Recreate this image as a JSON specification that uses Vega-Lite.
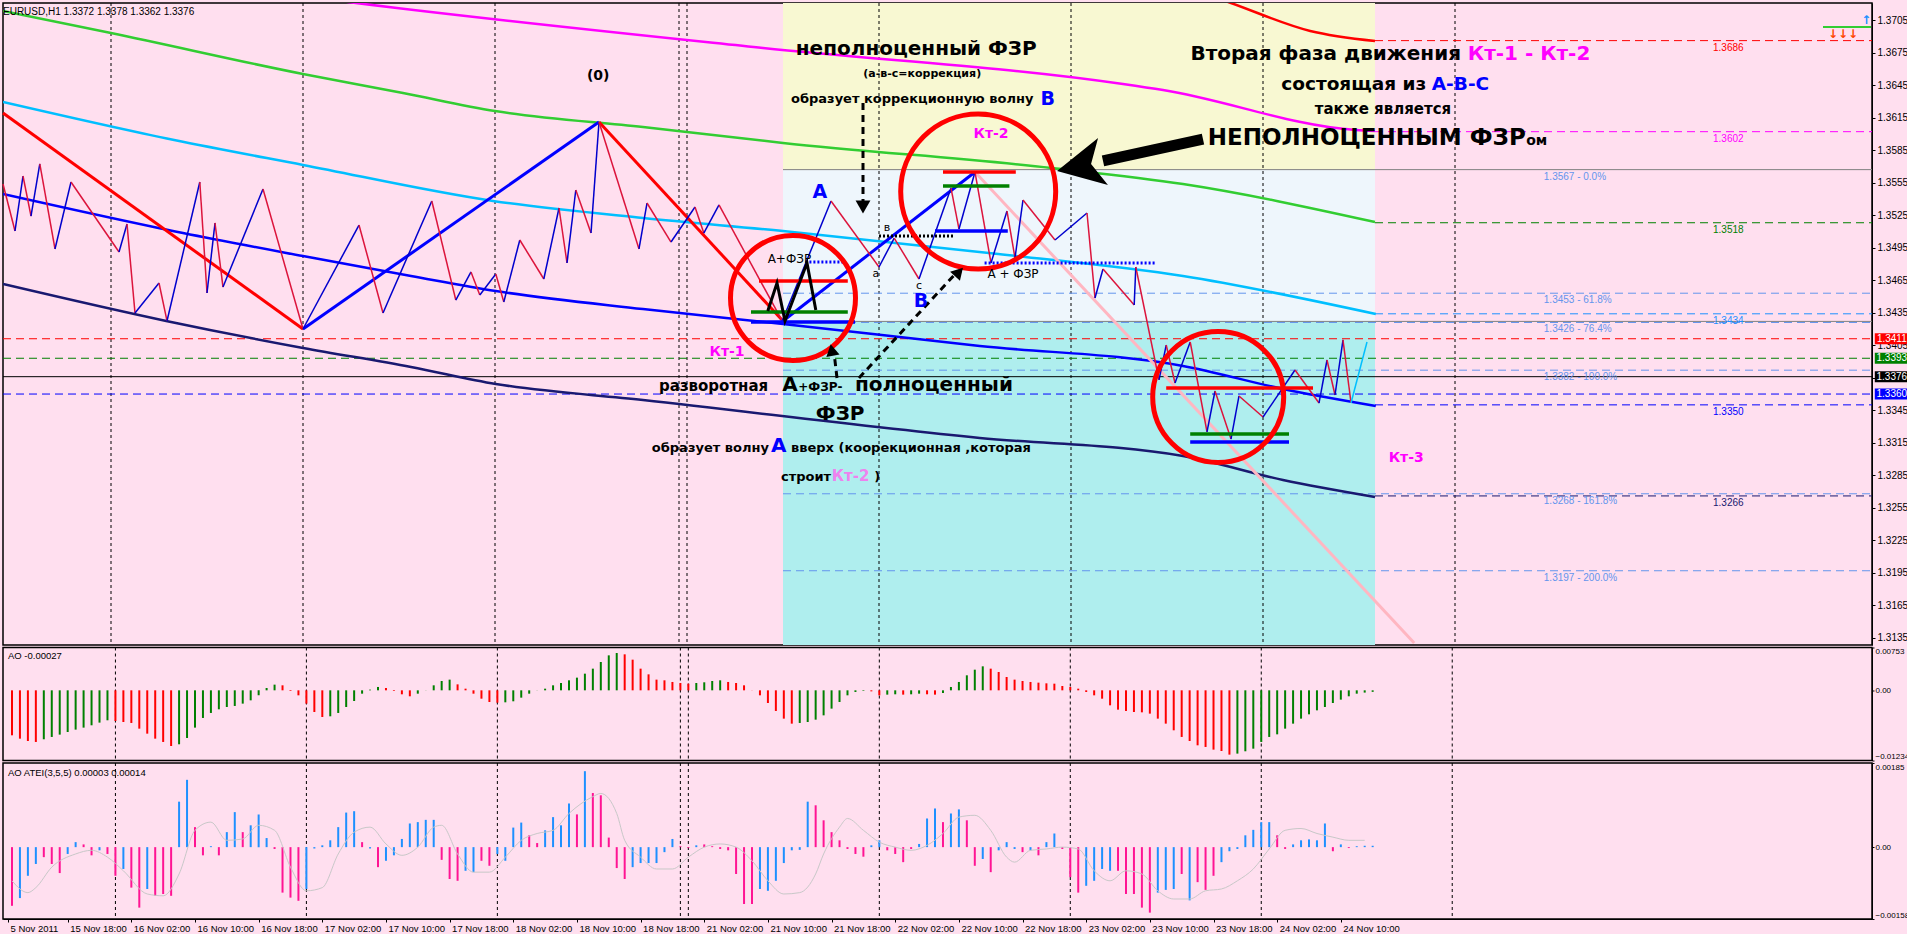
{
"$schema": "https://vega.github.io/schema/vega-lite/v6.json",
"background": "#FFDFEF",
"padding": {"left": 0, "top": 1, "right": 0, "bottom": 0},
"spacing": -1.5,
"config": {
  "view": {"stroke": "#000000", "strokeWidth": 1.5, "fill": "#FFDFEF"},
  "axis": {"labelFont": "Liberation Sans", "labelFontSize": 10, "labelColor": "#000000", "tickColor": "#000000", "domainColor": "#000000", "grid": false, "labelOverlap": false, "labelSeparation": 0}
},
"datasets": {
  "sep": [{"b":14},{"b":38},{"b":62},{"b":85},{"b":86},{"b":110},{"b":134},{"b":158},{"b":182}],
  "zz": [{"b":0.5,"p":1.35537},{"b":2,"p":1.35104},{"b":3,"p":1.35611},{"b":4,"p":1.35242},{"b":5.1,"p":1.35722},{"b":7,"p":1.34938},{"b":9,"p":1.35556},{"b":15,"p":1.3491},{"b":16,"p":1.35168},{"b":17,"p":1.34348},{"b":20,"p":1.34624},{"b":21,"p":1.34274},{"b":25.1,"p":1.35556},{"b":26,"p":1.34532},{"b":27,"p":1.35178},{"b":28,"p":1.34587},{"b":33,"p":1.35491},{"b":38,"p":1.342},{"b":45,"p":1.35159},{"b":48,"p":1.34348},{"b":54.1,"p":1.35381},{"b":57.1,"p":1.34467},{"b":59,"p":1.34726},{"b":60.1,"p":1.34514},{"b":62.1,"p":1.34707},{"b":63.1,"p":1.34449},{"b":65.1,"p":1.35021},{"b":68.1,"p":1.34661},{"b":70,"p":1.35316},{"b":71,"p":1.34809},{"b":72.1,"p":1.35482},{"b":74,"p":1.35085},{"b":75,"p":1.36109},{"b":80,"p":1.34938},{"b":81,"p":1.35362},{"b":84,"p":1.35002},{"b":87,"p":1.35325},{"b":88.1,"p":1.35085},{"b":90,"p":1.35344},{"b":97.9,"p":1.34274},{"b":104,"p":1.35381},{"b":110,"p":1.34772},{"b":111.9,"p":1.35039},{"b":115,"p":1.34661},{"b":119,"p":1.355},{"b":120,"p":1.35122},{"b":122,"p":1.35648},{"b":124,"p":1.34809},{"b":126,"p":1.35288},{"b":127,"p":1.34855},{"b":128,"p":1.3539},{"b":132,"p":1.35021},{"b":136,"p":1.3527},{"b":137,"p":1.34486},{"b":138,"p":1.34753},{"b":141.9,"p":1.34421},{"b":142.1,"p":1.34772},{"b":145,"p":1.3373},{"b":145.9,"p":1.34052},{"b":147,"p":1.33702},{"b":148.9,"p":1.3408},{"b":151,"p":1.3325},{"b":152,"p":1.33628},{"b":154,"p":1.33185},{"b":155,"p":1.33582},{"b":158,"p":1.33388},{"b":162,"p":1.33822},{"b":165,"p":1.33517},{"b":166,"p":1.33914},{"b":167,"p":1.33591},{"b":168,"p":1.34099},{"b":169,"p":1.33517}],
  "big": [{"b":0.5,"p":1.36192},{"b":38,"p":1.342},{"b":75,"p":1.36109},{"b":98,"p":1.34274},{"b":122,"p":1.35648}],
  "ma": [
    {"m":"MA1","b":148,"p":1.37363},{"m":"MA1","b":154,"p":1.37207},{"m":"MA1","b":163.9,"p":1.36949},{"m":"MA1","b":172,"p":1.36856},
    {"m":"MA2","b":30,"p":1.37346},{"m":"MA2","b":44.6,"p":1.37207},{"m":"MA2","b":95.5,"p":1.36792},{"m":"MA2","b":140.5,"p":1.3646},{"m":"MA2","b":145.5,"p":1.36404},{"m":"MA2","b":169.6,"p":1.36035},{"m":"MA2","b":172,"p":1.36026},
    {"m":"MA3","b":0.5,"p":1.37133},{"m":"MA3","b":14,"p":1.3693},{"m":"MA3","b":38,"p":1.36552},{"m":"MA3","b":50.5,"p":1.36377},{"m":"MA3","b":62,"p":1.36211},{"m":"MA3","b":80.5,"p":1.36063},{"m":"MA3","b":98,"p":1.35916},{"m":"MA3","b":131.6,"p":1.35685},{"m":"MA3","b":148,"p":1.35537},{"m":"MA3","b":172,"p":1.35187},
    {"m":"MA4","b":0.5,"p":1.36294},{"m":"MA4","b":21.9,"p":1.35943},{"m":"MA4","b":38,"p":1.35713},{"m":"MA4","b":61.75,"p":1.35381},{"m":"MA4","b":80.5,"p":1.35224},{"m":"MA4","b":98,"p":1.35104},{"m":"MA4","b":124.9,"p":1.34892},{"m":"MA4","b":148,"p":1.34689},{"m":"MA4","b":172.1,"p":1.34338},
    {"m":"MA5","b":0.5,"p":1.35445},{"m":"MA5","b":23,"p":1.35085},{"m":"MA5","b":38,"p":1.34873},{"m":"MA5","b":51.5,"p":1.34689},{"m":"MA5","b":62.1,"p":1.3455},{"m":"MA5","b":80.5,"p":1.34384},{"m":"MA5","b":98,"p":1.34246},{"m":"MA5","b":122.6,"p":1.34043},{"m":"MA5","b":148,"p":1.33859},{"m":"MA5","b":160.5,"p":1.33647},{"m":"MA5","b":172.1,"p":1.3349},
    {"m":"MA6","b":0.5,"p":1.34615},{"m":"MA6","b":20.9,"p":1.34274},{"m":"MA6","b":38,"p":1.34025},{"m":"MA6","b":51.5,"p":1.3385},{"m":"MA6","b":62.1,"p":1.33693},{"m":"MA6","b":80.5,"p":1.33545},{"m":"MA6","b":122.6,"p":1.33195},{"m":"MA6","b":148,"p":1.33029},{"m":"MA6","b":160.5,"p":1.32807},{"m":"MA6","b":172,"p":1.3265}
  ],
  "lv": [
    {"k":"D1","p":1.3686,"b1":172,"b2":234.125},{"k":"D2","p":1.3602,"b1":172,"b2":234.125},{"k":"D3","p":1.3518,"b1":172,"b2":234.125},{"k":"D4","p":1.3434,"b1":172,"b2":234.125},{"k":"D5","p":1.335,"b1":172,"b2":234.125},{"k":"D6","p":1.3266,"b1":172,"b2":234.125},
    {"k":"L1","p":1.3411,"b1":0.5,"b2":234.125},{"k":"L2","p":1.3393,"b1":0.5,"b2":234.125},{"k":"L3","p":1.3376,"b1":0.5,"b2":234.125},{"k":"L4","p":1.336,"b1":0.5,"b2":234.125},
    {"k":"F","p":1.3453,"b1":98,"b2":234.125},{"k":"F","p":1.3426,"b1":98,"b2":234.125},{"k":"F","p":1.3382,"b1":98,"b2":234.125},{"k":"F","p":1.3268,"b1":98,"b2":234.125},{"k":"F","p":1.3197,"b1":98,"b2":234.125},
    {"k":"G","p":1.3567,"b1":98,"b2":234.125},{"k":"G","p":1.3427,"b1":98,"b2":234.125}
  ],
  "ind": [
{"b":1,"ao":-0.00791,"at":-0.00129,"t":"d"},{"b":2,"ao":-0.0085,"at":-0.00112,"t":"u"},{"b":3,"ao":-0.00891,"at":-0.00063,"t":"u"},{"b":4,"ao":-0.00908,"at":-0.00037,"t":"u"},{"b":5,"ao":-0.00861,"at":-0.00022,"t":"d"},{"b":6,"ao":-0.0082,"at":-0.00037,"t":"d"},{"b":7,"ao":-0.00779,"at":-0.00057,"t":"d"},{"b":8,"ao":-0.00733,"at":-0.00015,"t":"u"},{"b":9,"ao":-0.00691,"at":0.00011,"t":"u"},{"b":10,"ao":-0.00656,"at":0.00006,"t":"d"},
{"b":11,"ao":-0.00615,"at":-0.00018,"t":"d"},{"b":12,"ao":-0.00568,"at":-0.00007,"t":"u"},{"b":13,"ao":-0.00527,"at":-0.00015,"t":"d"},{"b":14,"ao":-0.00539,"at":-0.00063,"t":"d"},{"b":15,"ao":-0.00557,"at":-0.00048,"t":"u"},{"b":16,"ao":-0.00574,"at":-0.00089,"t":"d"},{"b":17,"ao":-0.00674,"at":-0.00133,"t":"d"},{"b":18,"ao":-0.00762,"at":-0.00092,"t":"u"},{"b":19,"ao":-0.0085,"at":-0.00107,"t":"d"},{"b":20,"ao":-0.00908,"at":-0.00103,"t":"d"},
{"b":21,"ao":-0.00979,"at":-0.00107,"t":"d"},{"b":22,"ao":-0.00949,"at":0.001,"t":"u"},{"b":23,"ao":-0.00838,"at":0.00148,"t":"u"},{"b":24,"ao":-0.00656,"at":0.00044,"t":"d"},{"b":25,"ao":-0.00486,"at":-0.00018,"t":"d"},{"b":26,"ao":-0.00398,"at":0.00002,"t":"u"},{"b":27,"ao":-0.00334,"at":-0.00018,"t":"d"},{"b":28,"ao":-0.00293,"at":0.00033,"t":"u"},{"b":29,"ao":-0.00275,"at":0.00077,"t":"u"},{"b":30,"ao":-0.00234,"at":0.00033,"t":"d"},
{"b":31,"ao":-0.00176,"at":0.00048,"t":"u"},{"b":32,"ao":-0.00088,"at":0.00072,"t":"u"},{"b":33,"ao":0.00041,"at":0.0002,"t":"u"},{"b":34,"ao":0.001,"at":-0.00004,"t":"d"},{"b":35,"ao":0.00088,"at":-0.001,"t":"d"},{"b":36,"ao":-0.00012,"at":-0.00111,"t":"d"},{"b":37,"ao":-0.00088,"at":-0.00118,"t":"d"},{"b":38,"ao":-0.00234,"at":-0.00092,"t":"u"},{"b":39,"ao":-0.00381,"at":-0.00003,"t":"u"},{"b":40,"ao":-0.00469,"at":0.00004,"t":"u"},
{"b":41,"ao":-0.00457,"at":0.00015,"t":"u"},{"b":42,"ao":-0.00398,"at":0.00044,"t":"u"},{"b":43,"ao":-0.00293,"at":0.00076,"t":"u"},{"b":44,"ao":-0.00188,"at":0.00079,"t":"u"},{"b":45,"ao":-0.00059,"at":0.00011,"t":"d"},{"b":46,"ao":0.00012,"at":-0.00003,"t":"u"},{"b":47,"ao":0.00059,"at":-0.00044,"t":"d"},{"b":48,"ao":0.00041,"at":-0.0003,"t":"u"},{"b":49,"ao":-0.00012,"at":-0.00018,"t":"u"},{"b":50,"ao":-0.0007,"at":0.00018,"t":"u"},
{"b":51,"ao":-0.00105,"at":0.00052,"t":"u"},{"b":52,"ao":-0.00059,"at":0.00055,"t":"u"},{"b":53,"ao":0.00002,"at":0.0006,"t":"u"},{"b":54,"ao":0.00088,"at":0.0006,"t":"u"},{"b":55,"ao":0.00164,"at":-0.00028,"t":"d"},{"b":56,"ao":0.00188,"at":-0.0007,"t":"d"},{"b":57,"ao":0.00105,"at":-0.00074,"t":"d"},{"b":58,"ao":0.00029,"at":-0.00052,"t":"u"},{"b":59,"ao":-0.00059,"at":-0.00055,"t":"u"},{"b":60,"ao":-0.00147,"at":-0.0003,"t":"d"},
{"b":61,"ao":-0.00205,"at":-0.00041,"t":"d"},{"b":62,"ao":-0.00217,"at":-0.00015,"t":"u"},{"b":63,"ao":-0.00211,"at":-0.0003,"t":"u"},{"b":64,"ao":-0.00193,"at":0.00043,"t":"u"},{"b":65,"ao":-0.00129,"at":0.00054,"t":"u"},{"b":66,"ao":-0.00059,"at":0.00026,"t":"d"},{"b":67,"ao":0.00002,"at":0.00009,"t":"d"},{"b":68,"ao":0.00029,"at":0.00037,"t":"u"},{"b":69,"ao":0.00088,"at":0.00066,"t":"u"},{"b":70,"ao":0.00129,"at":0.00048,"t":"u"},
{"b":71,"ao":0.00176,"at":0.00096,"t":"u"},{"b":72,"ao":0.00223,"at":0.00072,"t":"d"},{"b":73,"ao":0.00293,"at":0.00167,"t":"u"},{"b":74,"ao":0.00381,"at":0.00119,"t":"d"},{"b":75,"ao":0.00498,"at":0.00114,"t":"d"},{"b":76,"ao":0.00615,"at":0.00021,"t":"d"},{"b":77,"ao":0.00656,"at":-0.00046,"t":"d"},{"b":78,"ao":0.00633,"at":-0.0007,"t":"d"},{"b":79,"ao":0.00539,"at":-0.00044,"t":"u"},{"b":80,"ao":0.00381,"at":-0.00035,"t":"u"},
{"b":81,"ao":0.00281,"at":-0.00035,"t":"u"},{"b":82,"ao":0.00188,"at":-0.00035,"t":"u"},{"b":83,"ao":0.00176,"at":-0.00011,"t":"u"},{"b":84,"ao":0.00147,"at":0.00018,"t":"u"},{"b":85,"ao":0.00129,"at":0.00002,"t":"d"},{"b":86,"ao":0.00117,"at":-0.00002,"t":"d"},{"b":87,"ao":0.00129,"at":0.00004,"t":"u"},{"b":88,"ao":0.00141,"at":0.00006,"t":"d"},{"b":89,"ao":0.00164,"at":0.00002,"t":"d"},{"b":90,"ao":0.00176,"at":-0.00004,"t":"d"},
{"b":91,"ao":0.00147,"at":-0.00007,"t":"d"},{"b":92,"ao":0.00129,"at":-0.00059,"t":"d"},{"b":93,"ao":0.00088,"at":-0.00125,"t":"d"},{"b":94,"ao":-0.00002,"at":-0.00125,"t":"d"},{"b":95,"ao":-0.00088,"at":-0.00092,"t":"u"},{"b":96,"ao":-0.00223,"at":-0.00096,"t":"u"},{"b":97,"ao":-0.00363,"at":-0.00074,"t":"u"},{"b":98,"ao":-0.00498,"at":-0.00035,"t":"u"},{"b":99,"ao":-0.00586,"at":-0.00007,"t":"u"},{"b":100,"ao":-0.00574,"at":-0.00006,"t":"u"},
{"b":101,"ao":-0.00557,"at":0.001,"t":"u"},{"b":102,"ao":-0.00516,"at":0.00092,"t":"d"},{"b":103,"ao":-0.0044,"at":0.00059,"t":"d"},{"b":104,"ao":-0.00322,"at":0.00033,"t":"d"},{"b":105,"ao":-0.00205,"at":0.00015,"t":"d"},{"b":106,"ao":-0.00088,"at":-0.00004,"t":"d"},{"b":107,"ao":-0.00029,"at":-0.00015,"t":"d"},{"b":108,"ao":-0.0001,"at":-0.00021,"t":"d"},{"b":109,"ao":-0.00018,"at":0.00004,"t":"u"},{"b":110,"ao":-0.00088,"at":0.00015,"t":"u"},
{"b":111,"ao":-0.00076,"at":-0.00007,"t":"d"},{"b":112,"ao":-0.0007,"at":-0.00015,"t":"d"},{"b":113,"ao":-0.00076,"at":-0.00033,"t":"d"},{"b":114,"ao":-0.0007,"at":-0.00004,"t":"d"},{"b":115,"ao":-0.00059,"at":0.00007,"t":"u"},{"b":116,"ao":-0.0007,"at":0.00063,"t":"u"},{"b":117,"ao":-0.00076,"at":0.00085,"t":"u"},{"b":118,"ao":-0.00047,"at":0.00055,"t":"d"},{"b":119,"ao":0.00059,"at":0.00074,"t":"u"},{"b":120,"ao":0.00147,"at":0.00083,"t":"u"},
{"b":121,"ao":0.00264,"at":0.00059,"t":"d"},{"b":122,"ao":0.00363,"at":-0.00041,"t":"d"},{"b":123,"ao":0.00422,"at":-0.00026,"t":"u"},{"b":124,"ao":0.00381,"at":-0.00055,"t":"d"},{"b":125,"ao":0.00322,"at":-0.00007,"t":"u"},{"b":126,"ao":0.00234,"at":0.00011,"t":"u"},{"b":127,"ao":0.00188,"at":-0.00004,"t":"u"},{"b":128,"ao":0.00164,"at":-0.00011,"t":"d"},{"b":129,"ao":0.00147,"at":-0.00007,"t":"u"},{"b":130,"ao":0.00135,"at":-0.00018,"t":"d"},
{"b":131,"ao":0.00123,"at":0.00011,"t":"u"},{"b":132,"ao":0.00117,"at":0.0003,"t":"u"},{"b":133,"ao":0.00076,"at":-0.00004,"t":"d"},{"b":134,"ao":0.00059,"at":-0.00066,"t":"d"},{"b":135,"ao":0.00029,"at":-0.001,"t":"d"},{"b":136,"ao":-0.00029,"at":-0.00085,"t":"u"},{"b":137,"ao":-0.00088,"at":-0.00074,"t":"u"},{"b":138,"ao":-0.00147,"at":-0.00048,"t":"u"},{"b":139,"ao":-0.00264,"at":-0.00052,"t":"u"},{"b":140,"ao":-0.0034,"at":-0.00052,"t":"d"},
{"b":141,"ao":-0.00363,"at":-0.00103,"t":"d"},{"b":142,"ao":-0.00381,"at":-0.00103,"t":"d"},{"b":143,"ao":-0.00387,"at":-0.00133,"t":"d"},{"b":144,"ao":-0.0041,"at":-0.00144,"t":"d"},{"b":145,"ao":-0.00498,"at":-0.001,"t":"u"},{"b":146,"ao":-0.00586,"at":-0.00094,"t":"u"},{"b":147,"ao":-0.00703,"at":-0.00092,"t":"u"},{"b":148,"ao":-0.0082,"at":-0.00059,"t":"d"},{"b":149,"ao":-0.00891,"at":-0.00117,"t":"u"},{"b":150,"ao":-0.00967,"at":-0.00077,"t":"d"},
{"b":151,"ao":-0.00996,"at":-0.00094,"t":"d"},{"b":152,"ao":-0.01043,"at":-0.00063,"t":"d"},{"b":153,"ao":-0.01067,"at":-0.00033,"t":"u"},{"b":154,"ao":-0.01131,"at":-0.00009,"t":"u"},{"b":155,"ao":-0.01113,"at":-0.00004,"t":"u"},{"b":156,"ao":-0.01072,"at":0.00026,"t":"u"},{"b":157,"ao":-0.01026,"at":0.00038,"t":"u"},{"b":158,"ao":-0.00908,"at":0.00055,"t":"u"},{"b":159,"ao":-0.0082,"at":0.00055,"t":"u"},{"b":160,"ao":-0.00774,"at":0.00026,"t":"d"},
{"b":161,"ao":-0.00674,"at":-0.00004,"t":"d"},{"b":162,"ao":-0.00586,"at":0.00006,"t":"u"},{"b":163,"ao":-0.00498,"at":0.00015,"t":"u"},{"b":164,"ao":-0.00422,"at":0.00017,"t":"u"},{"b":165,"ao":-0.00352,"at":0.00015,"t":"u"},{"b":166,"ao":-0.00293,"at":0.00052,"t":"u"},{"b":167,"ao":-0.00223,"at":-0.00009,"t":"d"},{"b":168,"ao":-0.00164,"at":0.00006,"t":"u"},{"b":169,"ao":-0.00105,"at":-0.00002,"t":"d"},{"b":170,"ao":-0.00059,"at":0.00002,"t":"u"},
{"b":171,"ao":-0.0004,"at":0.00003,"t":"u"},{"b":172,"ao":-0.00027,"at":0.00003,"t":"u"}
  ],
  "sig": [{"b":1,"s":-0.00074},{"b":3,"s":-0.001},{"b":4,"s":-0.00089},{"b":6,"s":-0.00044},{"b":9,"s":-0.00015},{"b":11,"s":-0.00007},{"b":13,"s":-0.00022},{"b":15,"s":-0.00052},{"b":18,"s":-0.00103},{"b":20,"s":-0.00107},{"b":22,"s":-0.00059},{"b":24,"s":0.00037},{"b":26,"s":0.00055},{"b":28,"s":0.00015},{"b":30,"s":0.00018},{"b":32,"s":0.00048},{"b":34,"s":0.00037},{"b":36,"s":-0.00044},{"b":38,"s":-0.00096},{"b":40,"s":-0.00089},{"b":42,"s":-0.00015},{"b":44,"s":0.00033},{"b":46,"s":0.00044},{"b":48,"s":0.00007},{"b":50,"s":-0.00018},{"b":52,"s":0.0},{"b":54,"s":0.00044},{"b":55,"s":0.00048},{"b":57,"s":-0.00015},{"b":59,"s":-0.00055},{"b":61,"s":-0.00055},{"b":63,"s":-0.00022},{"b":65,"s":0.00015},{"b":67,"s":0.0003},{"b":69,"s":0.00037},{"b":71,"s":0.00074},{"b":74,"s":0.00111},{"b":75,"s":0.00118},{"b":77,"s":0.00074},{"b":78,"s":0.00015},{"b":80,"s":-0.00022},{"b":82,"s":-0.00048},{"b":84,"s":-0.00048},{"b":86,"s":-0.00022},{"b":88,"s":0.0},{"b":90,"s":0.00007},{"b":92,"s":0.0},{"b":94,"s":-0.0003},{"b":96,"s":-0.00074},{"b":98,"s":-0.00103},{"b":100,"s":-0.001},{"b":102,"s":-0.00059},{"b":103,"s":-0.00015},{"b":105,"s":0.00044},{"b":106,"s":0.00063},{"b":108,"s":0.00037},{"b":110,"s":0.00011},{"b":112,"s":0.0},{"b":114,"s":-0.00007},{"b":116,"s":0.00004},{"b":118,"s":0.0003},{"b":120,"s":0.00066},{"b":122,"s":0.0007},{"b":124,"s":0.00037},{"b":126,"s":-0.00022},{"b":127,"s":-0.00033},{"b":129,"s":-0.00007},{"b":131,"s":-0.00004},{"b":133,"s":0.0},{"b":135,"s":-0.00004},{"b":137,"s":-0.00052},{"b":139,"s":-0.00074},{"b":141,"s":-0.00052},{"b":143,"s":-0.00059},{"b":145,"s":-0.00096},{"b":147,"s":-0.00114},{"b":149,"s":-0.00114},{"b":151,"s":-0.00096},{"b":153,"s":-0.00092},{"b":155,"s":-0.00074},{"b":157,"s":-0.00048},{"b":159,"s":-0.00004},{"b":161,"s":0.00037},{"b":163,"s":0.00041},{"b":165,"s":0.0003},{"b":167,"s":0.00022},{"b":169,"s":0.00015},{"b":171,"s":0.00015}]
},
"vconcat": [
{
  "width": 1869, "height": 642,
  "resolve": {"scale": {"color": "independent"}},
  "layer": [
    {"data": {"values": [{"z":"Z1","b1":98,"b2":172,"p1":1.37207,"p2":1.3567},{"z":"Z2","b1":98,"b2":172,"p1":1.3567,"p2":1.3427},{"z":"Z3","b1":98,"b2":172,"p1":1.3427,"p2":1.31285}]},
     "mark": {"type": "rect"},
     "encoding": {
       "x": {"field": "b1", "type": "quantitative", "scale": {"domain": [0.5, 234.125], "nice": false, "zero": false}, "axis": null},
       "x2": {"field": "b2"},
       "y": {"field": "p1", "type": "quantitative", "scale": {"domain": [1.31285, 1.37207], "nice": false, "zero": false},
             "axis": {"orient": "right", "title": null, "values": [1.3705,1.3675,1.3645,1.3615,1.3585,1.3555,1.3525,1.3495,1.3465,1.3435,1.3405,1.3375,1.3345,1.3315,1.3285,1.3255,1.3225,1.3195,1.3165,1.3135], "tickCount": 40, "format": ".4f", "tickSize": 3, "labelPadding": 2, "labelOverlap": false, "labelSeparation": 0, "labelFlush": false, "labelBound": false}},
       "y2": {"field": "p2"},
       "color": {"field": "z", "type": "nominal", "scale": {"domain": ["Z1","Z2","Z3"], "range": ["#F8F8D2","#EEF6FC","#AFEEEE"]}, "legend": null}
     }},
    {"data": {"name": "sep"}, "mark": {"type": "rule", "strokeDash": [3,3], "color": "#000000", "strokeWidth": 1},
     "encoding": {"x": {"field": "b", "type": "quantitative", "axis": null}}},
    {"data": {"name": "lv"}, "transform": [{"filter": "datum.k != 'L3' && datum.k != 'G'"}],
     "mark": {"type": "rule", "strokeDash": [8,5], "strokeWidth": 1},
     "encoding": {"x": {"field": "b1", "type": "quantitative", "axis": null}, "x2": {"field": "b2"}, "y": {"field": "p", "type": "quantitative"},
       "color": {"field": "k", "type": "nominal", "scale": {"domain": ["D1","D2","D3","D4","D5","D6","L1","L2","L4","F"], "range": ["#FF0000","#FF00FF","#008000","#1E90FF","#0000FF","#191970","#FF0000","#008000","#0000FF","#6495ED"]}, "legend": null}}},
    {"data": {"name": "lv"}, "transform": [{"filter": "datum.k == 'L3' || datum.k == 'G'"}],
     "mark": {"type": "rule", "strokeWidth": 1},
     "encoding": {"x": {"field": "b1", "type": "quantitative", "axis": null}, "x2": {"field": "b2"}, "y": {"field": "p", "type": "quantitative"},
       "color": {"field": "k", "type": "nominal", "scale": {"domain": ["L3","G"], "range": ["#000000","#808080"]}, "legend": null}}},
    {"data": {"name": "ma"}, "mark": {"type": "line", "strokeWidth": 2.5, "clip": true, "interpolate": "monotone"},
     "encoding": {"x": {"field": "b", "type": "quantitative", "axis": null}, "y": {"field": "p", "type": "quantitative"},
       "color": {"field": "m", "type": "nominal", "scale": {"domain": ["MA1","MA2","MA3","MA4","MA5","MA6"], "range": ["#FF0000","#FF00FF","#32CD32","#00BFFF","#0000FF","#191970"]}, "legend": null}}},
    {"data": {"values": [{"b":122,"p":1.35648},{"b":176.9,"p":1.31304}]}, "mark": {"type": "line", "strokeWidth": 3, "color": "#FFB6C1", "clip": true},
     "encoding": {"x": {"field": "b", "type": "quantitative", "axis": null}, "y": {"field": "p", "type": "quantitative"}}},
    {"data": {"name": "big"},
     "transform": [{"window": [{"op": "lead", "field": "b", "as": "b2"}, {"op": "lead", "field": "p", "as": "p2"}], "sort": [{"field": "b", "order": "ascending"}]}, {"filter": "datum.b2 != null"}],
     "mark": {"type": "rule", "strokeWidth": 3},
     "encoding": {"x": {"field": "b", "type": "quantitative", "axis": null}, "y": {"field": "p", "type": "quantitative"}, "x2": {"field": "b2"}, "y2": {"field": "p2"},
       "color": {"condition": {"test": "datum.p2 > datum.p", "value": "#0000FF"}, "value": "#FF0000"}}},
    {"data": {"name": "zz"},
     "transform": [{"window": [{"op": "lead", "field": "b", "as": "b2"}, {"op": "lead", "field": "p", "as": "p2"}], "sort": [{"field": "b", "order": "ascending"}]}, {"filter": "datum.b2 != null"}],
     "mark": {"type": "rule", "strokeWidth": 1.5},
     "encoding": {"x": {"field": "b", "type": "quantitative", "axis": null}, "y": {"field": "p", "type": "quantitative"}, "x2": {"field": "b2"}, "y2": {"field": "p2"},
       "color": {"condition": {"test": "datum.p2 > datum.p", "value": "#0000CD"}, "value": "#DC143C"}}},
    {"data": {"values": [{"b":169,"p":1.33517},{"b":171,"p":1.3408}]}, "mark": {"type": "line", "strokeWidth": 1.5, "color": "#00BFFF"},
     "encoding": {"x": {"field": "b", "type": "quantitative", "axis": null}, "y": {"field": "p", "type": "quantitative"}}},
    {"data": {"values": [{"b1":95,"b2":106.1,"p":1.34643,"c":"R"},{"b1":94,"b2":106.1,"p":1.34357,"c":"G"},{"b1":94,"b2":107,"p":1.34265,"c":"B"},{"b1":118,"b2":127.1,"p":1.35648,"c":"R"},{"b1":118,"b2":126.3,"p":1.35519,"c":"G"},{"b1":117,"b2":126.1,"p":1.35104,"c":"B"},{"b1":145.9,"b2":164.25,"p":1.33656,"c":"R"},{"b1":148.9,"b2":161.25,"p":1.33232,"c":"G"},{"b1":148.9,"b2":161.25,"p":1.33158,"c":"B"}]},
     "mark": {"type": "rule", "strokeWidth": 3.5},
     "encoding": {"x": {"field": "b1", "type": "quantitative", "axis": null}, "x2": {"field": "b2"}, "y": {"field": "p", "type": "quantitative"},
       "color": {"field": "c", "type": "nominal", "scale": {"domain": ["R","G","B"], "range": ["#FF0000","#008000","#0000FF"]}, "legend": null}}},
    {"data": {"values": [{"b1":100.8,"b2":105.5,"p":1.34818,"c":"B"},{"b1":123.2,"b2":144.5,"p":1.34809,"c":"B"},{"b1":110,"b2":119.25,"p":1.35058,"c":"K"}]},
     "mark": {"type": "rule", "strokeWidth": 3, "strokeDash": [2,2]},
     "encoding": {"x": {"field": "b1", "type": "quantitative", "axis": null}, "x2": {"field": "b2"}, "y": {"field": "p", "type": "quantitative"},
       "color": {"field": "c", "type": "nominal", "scale": {"domain": ["B","K"], "range": ["#0000FF","#000000"]}, "legend": null}}},
    {"data": {"values": [{"b":96.1,"p":1.34366},{"b":97.25,"p":1.34624},{"b":98.25,"p":1.34274},{"b":101,"p":1.34809},{"b":102.1,"p":1.34375}]},
     "mark": {"type": "line", "strokeWidth": 3, "color": "#000000"},
     "encoding": {"x": {"field": "b", "type": "quantitative", "axis": null}, "y": {"field": "p", "type": "quantitative"}}},
    {"data": {"values": [{"b":99.25,"p":1.34486}]}, "mark": {"type": "point", "shape": "circle", "filled": false, "stroke": "#FF0000", "strokeWidth": 5, "size": 15625, "opacity": 1},
     "encoding": {"x": {"field": "b", "type": "quantitative", "axis": null}, "y": {"field": "p", "type": "quantitative"}}},
    {"data": {"values": [{"b":122.4,"p":1.35468}]}, "mark": {"type": "point", "shape": "circle", "filled": false, "stroke": "#FF0000", "strokeWidth": 5, "size": 24025, "opacity": 1},
     "encoding": {"x": {"field": "b", "type": "quantitative", "axis": null}, "y": {"field": "p", "type": "quantitative"}}},
    {"data": {"values": [{"b":152.4,"p":1.33573}]}, "mark": {"type": "point", "shape": "circle", "filled": false, "stroke": "#FF0000", "strokeWidth": 5, "size": 17161, "opacity": 1},
     "encoding": {"x": {"field": "b", "type": "quantitative", "axis": null}, "y": {"field": "p", "type": "quantitative"}}},
    {"data": {"values": [{"b1":108,"p1":1.36284,"b2":108,"p2":1.35381},{"b1":104.75,"p1":1.33748,"b2":104.4,"p2":1.3397},{"b1":107.5,"p1":1.33748,"b2":119.3,"p2":1.34689}]},
     "mark": {"type": "rule", "strokeWidth": 3, "strokeDash": [7,5], "color": "#000000"},
     "encoding": {"x": {"field": "b1", "type": "quantitative", "axis": null}, "y": {"field": "p1", "type": "quantitative"}, "x2": {"field": "b2"}, "y2": {"field": "p2"}}},
    {"data": {"values": [{"b":108,"p":1.35325}]}, "mark": {"type": "point", "shape": "triangle-down", "filled": true, "color": "#000000", "size": 220, "opacity": 1},
     "encoding": {"x": {"field": "b", "type": "quantitative", "axis": null}, "y": {"field": "p", "type": "quantitative"}}},
    {"data": {"values": [{"b":104.1,"p":1.34006}]}, "mark": {"type": "point", "shape": "triangle-up", "angle": -11, "filled": true, "color": "#000000", "size": 180, "opacity": 1},
     "encoding": {"x": {"field": "b", "type": "quantitative", "axis": null}, "y": {"field": "p", "type": "quantitative"}}},
    {"data": {"values": [{"b":120,"p":1.34726}]}, "mark": {"type": "point", "shape": "triangle-up", "angle": 43, "filled": true, "color": "#000000", "size": 180, "opacity": 1},
     "encoding": {"x": {"field": "b", "type": "quantitative", "axis": null}, "y": {"field": "p", "type": "quantitative"}}},
    {"data": {"values": [{"b1":138,"p1":1.3575,"b2":150.5,"p2":1.35952}]}, "mark": {"type": "rule", "strokeWidth": 11, "color": "#000000"},
     "encoding": {"x": {"field": "b1", "type": "quantitative", "axis": null}, "y": {"field": "p1", "type": "quantitative"}, "x2": {"field": "b2"}, "y2": {"field": "p2"}}},
    {"data": {"values": [{"b":135.5,"p":1.35722}]}, "mark": {"type": "point", "shape": "M -1 0.27 L 0.58 -1 L 0.31 0 L 0.96 0.81 Z", "filled": true, "color": "#000000", "size": 2704, "opacity": 1},
     "encoding": {"x": {"field": "b", "type": "quantitative", "axis": null}, "y": {"field": "p", "type": "quantitative"}}},
    {"data": {"values": [{"b1":228,"b2":234,"p":1.36985}]}, "mark": {"type": "rule", "strokeWidth": 2, "color": "#32CD32"},
     "encoding": {"x": {"field": "b1", "type": "quantitative", "axis": null}, "x2": {"field": "b2"}, "y": {"field": "p", "type": "quantitative"}}},
    {"data": {"values": [{"t":"↓↓↓","b":230.5,"p":1.36921}]}, "mark": {"type": "text", "font": "DejaVu Sans", "fontWeight": "bold", "fontSize": 12, "color": "#FF4500", "align": "center", "baseline": "middle"},
     "encoding": {"x": {"field": "b", "type": "quantitative", "axis": null}, "y": {"field": "p", "type": "quantitative"}, "text": {"field": "t"}}},
    {"data": {"values": [{"t":"↑","b":233.4,"p":1.3705}]}, "mark": {"type": "text", "font": "DejaVu Sans", "fontWeight": "bold", "fontSize": 12, "color": "#1E90FF", "align": "center", "baseline": "middle"},
     "encoding": {"x": {"field": "b", "type": "quantitative", "axis": null}, "y": {"field": "p", "type": "quantitative"}, "text": {"field": "t"}}},
    {"data": {"values": [{"t":"EURUSD,H1  1.3372 1.3378 1.3362 1.3376","b":0.5,"p":1.37124}]}, "mark": {"type": "text", "font": "Liberation Sans", "fontSize": 10, "color": "#000000", "align": "left", "baseline": "middle"},
     "encoding": {"x": {"field": "b", "type": "quantitative", "axis": null}, "y": {"field": "p", "type": "quantitative"}, "text": {"field": "t"}}},
    {"data": {"values": [{"t":"неполноценный ФЗР","b":99.6,"p":1.36783},{"t":"ФЗР","b":102.1,"p":1.33416}]},
     "mark": {"type": "text", "font": "DejaVu Sans", "fontWeight": "bold", "fontSize": 20, "color": "#000000", "align": "left", "baseline": "middle"},
     "encoding": {"x": {"field": "b", "type": "quantitative", "axis": null}, "y": {"field": "p", "type": "quantitative"}, "text": {"field": "t"}}},
    {"data": {"values": [{"t":"Вторая фаза движения","b":182.75,"p":1.36736}]},
     "mark": {"type": "text", "font": "DejaVu Sans", "fontWeight": "bold", "fontSize": 20, "color": "#000000", "align": "right", "baseline": "middle"},
     "encoding": {"x": {"field": "b", "type": "quantitative", "axis": null}, "y": {"field": "p", "type": "quantitative"}, "text": {"field": "t"}}},
    {"data": {"values": [{"t":"Кт-1 - Кт-2","b":183.6,"p":1.36736}]},
     "mark": {"type": "text", "font": "DejaVu Sans", "fontWeight": "bold", "fontSize": 20, "color": "#FF00FF", "align": "left", "baseline": "middle"},
     "encoding": {"x": {"field": "b", "type": "quantitative", "axis": null}, "y": {"field": "p", "type": "quantitative"}, "text": {"field": "t"}}},
    {"data": {"values": [{"t":"НЕПОЛНОЦЕННЫМ ФЗР","b":151.1,"p":1.35962}]},
     "mark": {"type": "text", "font": "DejaVu Sans", "fontWeight": "bold", "fontSize": 23, "color": "#000000", "align": "left", "baseline": "middle"},
     "encoding": {"x": {"field": "b", "type": "quantitative", "axis": null}, "y": {"field": "p", "type": "quantitative"}, "text": {"field": "t"}}},
    {"data": {"values": [{"t":"ом","b":190.9,"p":1.35934}]},
     "mark": {"type": "text", "font": "DejaVu Sans", "fontWeight": "bold", "fontSize": 14, "color": "#000000", "align": "left", "baseline": "middle"},
     "encoding": {"x": {"field": "b", "type": "quantitative", "axis": null}, "y": {"field": "p", "type": "quantitative"}, "text": {"field": "t"}}},
    {"data": {"values": [{"t":"состоящая из","b":178.4,"p":1.3646}]},
     "mark": {"type": "text", "font": "DejaVu Sans", "fontWeight": "bold", "fontSize": 18.5, "color": "#000000", "align": "right", "baseline": "middle"},
     "encoding": {"x": {"field": "b", "type": "quantitative", "axis": null}, "y": {"field": "p", "type": "quantitative"}, "text": {"field": "t"}}},
    {"data": {"values": [{"t":"А-В-С","b":179.1,"p":1.3646}]},
     "mark": {"type": "text", "font": "DejaVu Sans", "fontWeight": "bold", "fontSize": 18.5, "color": "#0000FF", "align": "left", "baseline": "middle"},
     "encoding": {"x": {"field": "b", "type": "quantitative", "axis": null}, "y": {"field": "p", "type": "quantitative"}, "text": {"field": "t"}}},
    {"data": {"values": [{"t":"также является","b":173,"p":1.36229}]},
     "mark": {"type": "text", "font": "DejaVu Sans", "fontWeight": "bold", "fontSize": 15, "color": "#000000", "align": "center", "baseline": "middle"},
     "encoding": {"x": {"field": "b", "type": "quantitative", "axis": null}, "y": {"field": "p", "type": "quantitative"}, "text": {"field": "t"}}},
    {"data": {"values": [{"t":"образует коррекционную волну","b":99,"p":1.36321}]},
     "mark": {"type": "text", "font": "DejaVu Sans", "fontWeight": "bold", "fontSize": 13, "color": "#000000", "align": "left", "baseline": "middle"},
     "encoding": {"x": {"field": "b", "type": "quantitative", "axis": null}, "y": {"field": "p", "type": "quantitative"}, "text": {"field": "t"}}},
    {"data": {"values": [{"t":"(а-в-с=коррекция)","b":115.4,"p":1.36552}]},
     "mark": {"type": "text", "font": "DejaVu Sans", "fontWeight": "bold", "fontSize": 11, "color": "#000000", "align": "center", "baseline": "middle"},
     "encoding": {"x": {"field": "b", "type": "quantitative", "axis": null}, "y": {"field": "p", "type": "quantitative"}, "text": {"field": "t"}}},
    {"data": {"values": [{"t":"В","b":131.1,"p":1.36321},{"t":"А","b":102.6,"p":1.35464},{"t":"В","b":115.25,"p":1.34458}]},
     "mark": {"type": "text", "font": "DejaVu Sans", "fontWeight": "bold", "fontSize": 19, "color": "#0000FF", "align": "center", "baseline": "middle"},
     "encoding": {"x": {"field": "b", "type": "quantitative", "axis": null}, "y": {"field": "p", "type": "quantitative"}, "text": {"field": "t"}}},
    {"data": {"values": [{"t":"Кт-1","b":91,"p":1.33985},{"t":"Кт-2","b":124,"p":1.35999},{"t":"Кт-3","b":175.9,"p":1.3301}]},
     "mark": {"type": "text", "font": "DejaVu Sans", "fontWeight": "bold", "fontSize": 14, "color": "#FF00FF", "align": "center", "baseline": "middle"},
     "encoding": {"x": {"field": "b", "type": "quantitative", "axis": null}, "y": {"field": "p", "type": "quantitative"}, "text": {"field": "t"}}},
    {"data": {"values": [{"t":"A+ФЗР","b":98.8,"p":1.34846},{"t":"А + ФЗР","b":126.75,"p":1.34707}]},
     "mark": {"type": "text", "font": "DejaVu Sans", "fontSize": 12, "color": "#000000", "align": "center", "baseline": "middle"},
     "encoding": {"x": {"field": "b", "type": "quantitative", "axis": null}, "y": {"field": "p", "type": "quantitative"}, "text": {"field": "t"}}},
    {"data": {"values": [{"t":"в","b":111,"p":1.35132},{"t":"а","b":109.6,"p":1.34707},{"t":"с","b":115,"p":1.34597}]},
     "mark": {"type": "text", "font": "DejaVu Sans", "fontSize": 11, "color": "#000000", "align": "center", "baseline": "middle"},
     "encoding": {"x": {"field": "b", "type": "quantitative", "axis": null}, "y": {"field": "p", "type": "quantitative"}, "text": {"field": "t"}}},
    {"data": {"values": [{"t":"(0)","b":74.9,"p":1.36533}]},
     "mark": {"type": "text", "font": "DejaVu Sans", "fontWeight": "bold", "fontSize": 14, "color": "#000000", "align": "center", "baseline": "middle"},
     "encoding": {"x": {"field": "b", "type": "quantitative", "axis": null}, "y": {"field": "p", "type": "quantitative"}, "text": {"field": "t"}}},
    {"data": {"values": [{"t":"разворотная","b":82.5,"p":1.33628}]},
     "mark": {"type": "text", "font": "DejaVu Sans", "fontWeight": "bold", "fontSize": 15, "color": "#000000", "align": "left", "baseline": "alphabetic"},
     "encoding": {"x": {"field": "b", "type": "quantitative", "axis": null}, "y": {"field": "p", "type": "quantitative"}, "text": {"field": "t"}}},
    {"data": {"values": [{"t":"А","b":97.9,"p":1.33628},{"t":"полноценный","b":107,"p":1.33628}]},
     "mark": {"type": "text", "font": "DejaVu Sans", "fontWeight": "bold", "fontSize": 20, "color": "#000000", "align": "left", "baseline": "alphabetic"},
     "encoding": {"x": {"field": "b", "type": "quantitative", "axis": null}, "y": {"field": "p", "type": "quantitative"}, "text": {"field": "t"}}},
    {"data": {"values": [{"t":"+ФЗР-","b":99.9,"p":1.33628}]},
     "mark": {"type": "text", "font": "DejaVu Sans", "fontWeight": "bold", "fontSize": 12, "color": "#000000", "align": "left", "baseline": "alphabetic"},
     "encoding": {"x": {"field": "b", "type": "quantitative", "axis": null}, "y": {"field": "p", "type": "quantitative"}, "text": {"field": "t"}}},
    {"data": {"values": [{"t":"образует волну","b":81.6,"p":1.33066},{"t":"вверх (коорекционная ,которая","b":99,"p":1.33066},{"t":"строит","b":97.75,"p":1.32798},{"t":")","b":109.4,"p":1.32798}]},
     "mark": {"type": "text", "font": "DejaVu Sans", "fontWeight": "bold", "fontSize": 13, "color": "#000000", "align": "left", "baseline": "alphabetic"},
     "encoding": {"x": {"field": "b", "type": "quantitative", "axis": null}, "y": {"field": "p", "type": "quantitative"}, "text": {"field": "t"}}},
    {"data": {"values": [{"t":"А","b":96.5,"p":1.33066}]},
     "mark": {"type": "text", "font": "DejaVu Sans", "fontWeight": "bold", "fontSize": 20, "color": "#0000FF", "align": "left", "baseline": "alphabetic"},
     "encoding": {"x": {"field": "b", "type": "quantitative", "axis": null}, "y": {"field": "p", "type": "quantitative"}, "text": {"field": "t"}}},
    {"data": {"values": [{"t":"Кт-2","b":104.1,"p":1.32798}]},
     "mark": {"type": "text", "font": "DejaVu Sans", "fontWeight": "bold", "fontSize": 15, "color": "#EE82EE", "align": "left", "baseline": "alphabetic"},
     "encoding": {"x": {"field": "b", "type": "quantitative", "axis": null}, "y": {"field": "p", "type": "quantitative"}, "text": {"field": "t"}}},
    {"data": {"values": [{"k":"D1","t":"1.3686","p":1.3686},{"k":"D2","t":"1.3602","p":1.3602},{"k":"D3","t":"1.3518","p":1.3518},{"k":"D4","t":"1.3434","p":1.3434},{"k":"D5","t":"1.3350","p":1.335},{"k":"D6","t":"1.3266","p":1.3266}]},
     "mark": {"type": "text", "font": "Liberation Sans", "fontSize": 10, "align": "left", "baseline": "middle", "dy": 7},
     "encoding": {"x": {"datum": 214.25, "type": "quantitative", "axis": null}, "y": {"field": "p", "type": "quantitative"}, "text": {"field": "t"},
       "color": {"field": "k", "type": "nominal", "scale": {"domain": ["D1","D2","D3","D4","D5","D6"], "range": ["#FF0000","#FF00FF","#008000","#1E90FF","#0000FF","#191970"]}, "legend": null}}},
    {"data": {"values": [{"t":"1.3567 - 0.0%","p":1.3567},{"t":"1.3453 - 61.8%","p":1.3453},{"t":"1.3426 - 76.4%","p":1.3426},{"t":"1.3382 - 100.0%","p":1.3382},{"t":"1.3268 - 161.8%","p":1.3268},{"t":"1.3197 - 200.0%","p":1.3197}]},
     "mark": {"type": "text", "font": "Liberation Sans", "fontSize": 10, "align": "left", "baseline": "middle", "dy": 7, "color": "#6495ED"},
     "encoding": {"x": {"datum": 193.1, "type": "quantitative", "axis": null}, "y": {"field": "p", "type": "quantitative"}, "text": {"field": "t"}}},
    {"data": {"values": [{"k":"L1","t":"1.3411","p":1.3411,"b":236.6},{"k":"L2","t":"1.3393","p":1.3393,"b":236.6},{"k":"L3","t":"1.3376","p":1.3376,"b":236.6},{"k":"L4","t":"1.3360","p":1.336,"b":236.6}]},
     "mark": {"type": "point", "shape": "M -1 -0.32 L 1 -0.32 L 1 0.32 L -1 0.32 Z", "filled": true, "size": 1156, "opacity": 1},
     "encoding": {"x": {"field": "b", "type": "quantitative", "axis": null}, "y": {"field": "p", "type": "quantitative"},
       "color": {"field": "k", "type": "nominal", "scale": {"domain": ["L1","L2","L3","L4"], "range": ["#FF0000","#008000","#000000","#0000FF"]}, "legend": null}}},
    {"data": {"values": [{"t":"1.3411","p":1.3411,"b":236.6},{"t":"1.3393","p":1.3393,"b":236.6},{"t":"1.3376","p":1.3376,"b":236.6},{"t":"1.3360","p":1.336,"b":236.6}]},
     "mark": {"type": "text", "font": "Liberation Sans", "fontSize": 10, "align": "center", "baseline": "middle", "color": "#FFFFFF"},
     "encoding": {"x": {"field": "b", "type": "quantitative", "axis": null}, "y": {"field": "p", "type": "quantitative"}, "text": {"field": "t"}}}
  ]
},
{
  "width": 1869, "height": 113,
  "layer": [
    {"data": {"name": "sep"}, "mark": {"type": "rule", "strokeDash": [3,3], "color": "#000000", "strokeWidth": 1},
     "encoding": {"x": {"field": "b", "type": "quantitative", "scale": {"domain": [0.5, 234.125], "nice": false, "zero": false}, "axis": null}}},
    {"data": {"name": "ind"},
     "transform": [{"window": [{"op": "lag", "field": "ao", "as": "prev"}], "sort": [{"field": "b", "order": "ascending"}]}],
     "mark": {"type": "bar", "size": 2},
     "encoding": {
       "x": {"field": "b", "type": "quantitative", "axis": null},
       "y": {"field": "ao", "type": "quantitative", "scale": {"domain": [-0.01234, 0.00753], "nice": false, "zero": false},
             "axis": {"orient": "right", "title": null, "values": [0.00753, 0, -0.01234], "tickCount": 10, "labelExpr": "datum.value == 0 ? '0.00' : format(datum.value, '.5f')", "labelFlush": true, "tickSize": 2, "labelPadding": 1, "labelOverlap": false, "labelFontSize": 8}},
       "y2": {"datum": 0},
       "color": {"condition": {"test": "datum.prev != null && datum.ao > datum.prev", "value": "#008000"}, "value": "#FF0000"}
     }},
    {"data": {"values": [{"t":"AO -0.00027","b":0.5,"v":0.00595}]},
     "mark": {"type": "text", "font": "Liberation Sans", "fontSize": 9.5, "color": "#000000", "align": "left", "baseline": "middle"},
     "encoding": {"x": {"field": "b", "type": "quantitative", "axis": null}, "y": {"field": "v", "type": "quantitative"}, "text": {"field": "t"}}}
  ]
},
{
  "width": 1869, "height": 156,
  "layer": [
    {"data": {"name": "sep"}, "mark": {"type": "rule", "strokeDash": [3,3], "color": "#000000", "strokeWidth": 1},
     "encoding": {"x": {"field": "b", "type": "quantitative", "scale": {"domain": [0.5, 234.125], "nice": false, "zero": false}}}},
    {"data": {"name": "ind"},
     "mark": {"type": "bar", "size": 2},
     "encoding": {
       "x": {"field": "b", "type": "quantitative",
             "axis": {"title": null, "values": [0.5,8,16,24,32,40,48,56,64,72,80,88,96,104,112,120,128,136,144,152,160,168], "tickCount": 60,
                      "labelExpr": "datum.value < 1 ? '5 Nov 2011' : ['15 Nov 18:00','16 Nov 02:00','16 Nov 10:00','16 Nov 18:00','17 Nov 02:00','17 Nov 10:00','17 Nov 18:00','18 Nov 02:00','18 Nov 10:00','18 Nov 18:00','21 Nov 02:00','21 Nov 10:00','21 Nov 18:00','22 Nov 02:00','22 Nov 10:00','22 Nov 18:00','23 Nov 02:00','23 Nov 10:00','23 Nov 18:00','24 Nov 02:00','24 Nov 10:00'][round(datum.value/8)-1]",
                      "labelAlign": "left", "labelOffset": 2, "labelPadding": 1, "tickSize": 3, "labelFontSize": 9.5, "labelOverlap": false, "labelFlush": false}},
       "y": {"field": "at", "type": "quantitative", "scale": {"domain": [-0.00158, 0.00185], "nice": false, "zero": false},
             "axis": {"orient": "right", "title": null, "values": [0.00185, 0, -0.00158], "tickCount": 10, "labelExpr": "datum.value == 0 ? '0.00' : format(datum.value, '.5f')", "labelFlush": true, "tickSize": 2, "labelPadding": 1, "labelOverlap": false, "labelFontSize": 8}},
       "y2": {"datum": 0},
       "color": {"condition": {"test": "datum.t == 'u'", "value": "#1E90FF"}, "value": "#FF1493"}
     }},
    {"data": {"name": "sig"}, "mark": {"type": "line", "strokeWidth": 1, "color": "#C8C8C8", "interpolate": "monotone"},
     "encoding": {"x": {"field": "b", "type": "quantitative"}, "y": {"field": "s", "type": "quantitative"}}},
    {"data": {"values": [{"t":"AO ATEI(3,5,5) 0.00003 0.00014","b":0.5,"v":0.00163}]},
     "mark": {"type": "text", "font": "Liberation Sans", "fontSize": 9.5, "color": "#000000", "align": "left", "baseline": "middle"},
     "encoding": {"x": {"field": "b", "type": "quantitative"}, "y": {"field": "v", "type": "quantitative"}, "text": {"field": "t"}}}
  ]
}
]
}
